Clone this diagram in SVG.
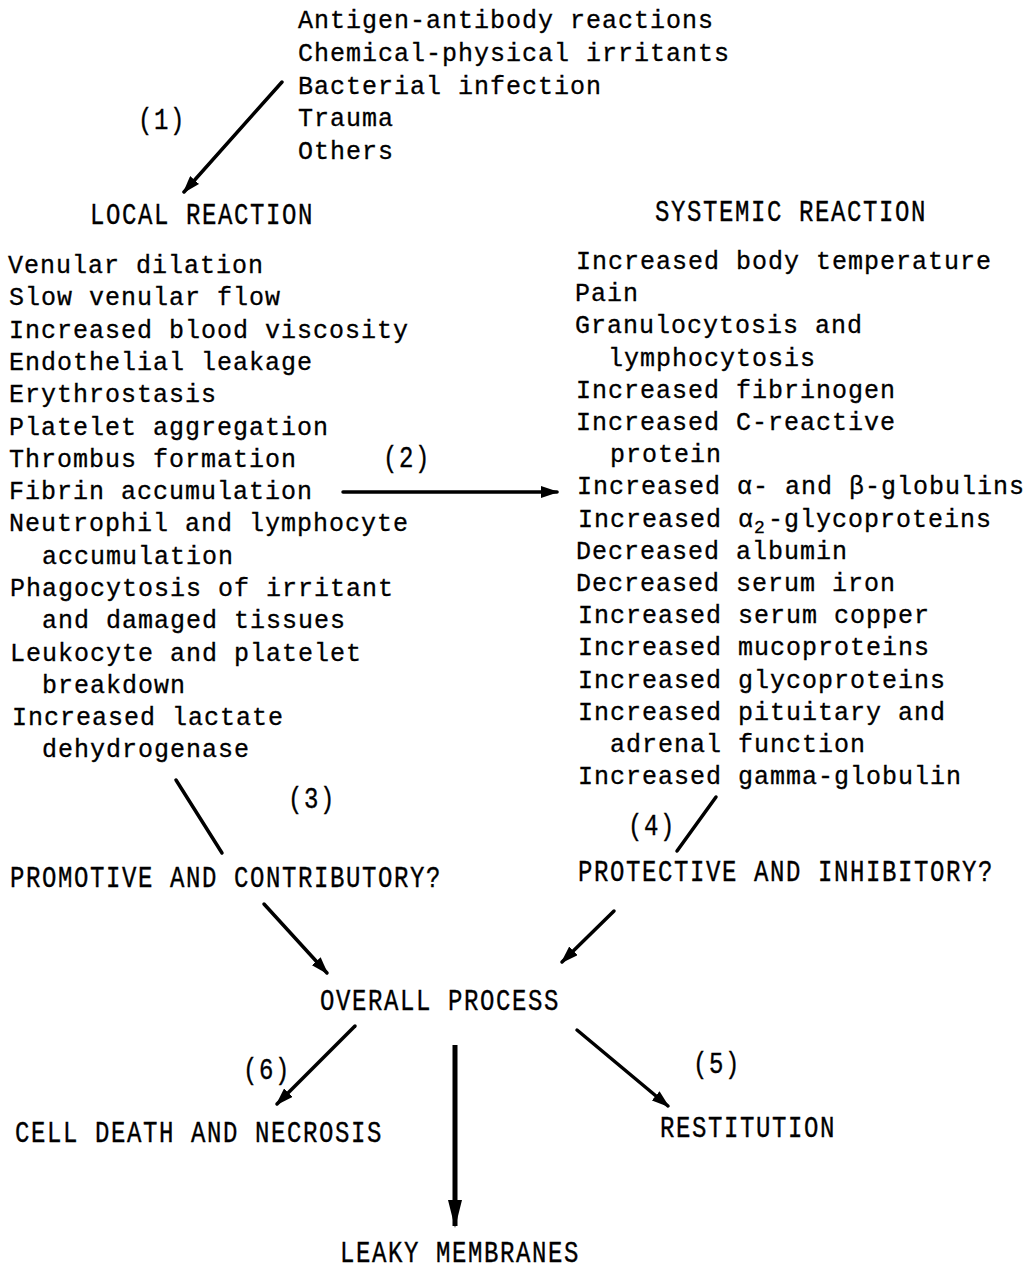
<svg xmlns="http://www.w3.org/2000/svg" width="1029" height="1271" viewBox="0 0 1029 1271">
<style>
.t{font-family:"Liberation Mono","Courier New",monospace;font-size:25px;letter-spacing:1px;fill:#000;stroke:#000;stroke-width:0.3}
.c{font-family:"Liberation Mono","Courier New",monospace;font-size:24px;letter-spacing:1.6px;fill:#000;stroke:#000;stroke-width:0.3}
.ln{stroke:#000;stroke-width:3.5;fill:none;stroke-linecap:round}
.thick{stroke:#000;stroke-width:5;fill:none}
</style>
<defs>
<marker id="ah" markerUnits="userSpaceOnUse" viewBox="0 0 18 12" markerWidth="18" markerHeight="12" refX="16" refY="6" orient="auto">
<path d="M0,0 L18,6 L0,12 z" fill="#000"/>
</marker>
<marker id="ahb" markerUnits="userSpaceOnUse" viewBox="0 0 28 14" markerWidth="28" markerHeight="14" refX="26" refY="7" orient="auto">
<path d="M0,0 L28,7 L0,14 z" fill="#000"/>
</marker>
</defs>
<rect width="1029" height="1271" fill="#fff"/>

<g id="causes">
<text class="t" x="298" y="28">Antigen-antibody reactions</text>
<text class="t" x="298" y="61">Chemical-physical irritants</text>
<text class="t" x="298" y="94">Bacterial infection</text>
<text class="t" x="298" y="126">Trauma</text>
<text class="t" x="298" y="159">Others</text>
</g>

<g id="local-reaction">
<text class="c" transform="translate(90,224) scale(1,1.25)">LOCAL REACTION</text>
<text class="t" x="8" y="273">Venular dilation</text>
<text class="t" x="9" y="305">Slow venular flow</text>
<text class="t" x="9" y="338">Increased blood viscosity</text>
<text class="t" x="9" y="370">Endothelial leakage</text>
<text class="t" x="9" y="402">Erythrostasis</text>
<text class="t" x="9" y="435">Platelet aggregation</text>
<text class="t" x="9" y="467">Thrombus formation</text>
<text class="t" x="9" y="499">Fibrin accumulation</text>
<text class="t" x="9" y="531">Neutrophil and lymphocyte</text>
<text class="t" x="42" y="564">accumulation</text>
<text class="t" x="10" y="596">Phagocytosis of irritant</text>
<text class="t" x="42" y="628">and damaged tissues</text>
<text class="t" x="10" y="661">Leukocyte and platelet</text>
<text class="t" x="42" y="693">breakdown</text>
<text class="t" x="12" y="725">Increased lactate</text>
<text class="t" x="42" y="757">dehydrogenase</text>
</g>

<g id="systemic-reaction">
<text class="c" transform="translate(655,221) scale(1,1.25)">SYSTEMIC REACTION</text>
<text class="t" x="576" y="269">Increased body temperature</text>
<text class="t" x="575" y="301">Pain</text>
<text class="t" x="575" y="333">Granulocytosis and</text>
<text class="t" x="608" y="366">lymphocytosis</text>
<text class="t" x="576" y="398">Increased fibrinogen</text>
<text class="t" x="576" y="430">Increased C-reactive</text>
<text class="t" x="610" y="462">protein</text>
<text class="t" x="577" y="494">Increased α- and β-globulins</text>
<text class="t" x="578" y="527">Increased α<tspan font-size="18" letter-spacing="0" dy="6">2</tspan><tspan x="768" dy="-6">-glycoproteins</tspan></text>
<text class="t" x="576" y="559">Decreased albumin</text>
<text class="t" x="576" y="591">Decreased serum iron</text>
<text class="t" x="578" y="623">Increased serum copper</text>
<text class="t" x="578" y="655">Increased mucoproteins</text>
<text class="t" x="578" y="688">Increased glycoproteins</text>
<text class="t" x="578" y="720">Increased pituitary and</text>
<text class="t" x="610" y="752">adrenal function</text>
<text class="t" x="578" y="784">Increased gamma-globulin</text>
</g>

<g id="promotive"><text class="c" transform="translate(10,887) scale(1,1.25)">PROMOTIVE AND CONTRIBUTORY?</text></g>
<g id="protective"><text class="c" transform="translate(578,881) scale(1,1.25)">PROTECTIVE AND INHIBITORY?</text></g>
<g id="overall"><text class="c" transform="translate(320,1010) scale(1,1.25)">OVERALL PROCESS</text></g>
<g id="necrosis"><text class="c" transform="translate(15,1142) scale(1,1.25)">CELL DEATH AND NECROSIS</text></g>
<g id="restitution"><text class="c" transform="translate(660,1137) scale(1,1.25)">RESTITUTION</text></g>
<g id="leaky"><text class="c" transform="translate(340,1262) scale(1,1.25)">LEAKY MEMBRANES</text></g>

<g id="connectors">
<line class="ln" x1="282" y1="82" x2="184" y2="192" marker-end="url(#ah)"/>
<line class="ln" x1="343" y1="492" x2="557" y2="492" marker-end="url(#ah)"/>
<line class="ln" x1="176" y1="780" x2="222" y2="853"/>
<line class="ln" x1="716" y1="797" x2="677" y2="851"/>
<line class="ln" x1="264" y1="904" x2="327" y2="973" marker-end="url(#ah)"/>
<line class="ln" x1="614" y1="911" x2="562" y2="962" marker-end="url(#ah)"/>
<line class="ln" x1="355" y1="1026" x2="277" y2="1104" marker-end="url(#ah)"/>
<line class="thick" x1="455" y1="1045" x2="455" y2="1226" marker-end="url(#ahb)"/>
<line class="ln" x1="577" y1="1030" x2="668" y2="1106" marker-end="url(#ah)"/>
<text class="c" transform="translate(138,129) scale(1,1.25)">(1)</text>
<text class="c" transform="translate(383,467) scale(1,1.25)">(2)</text>
<text class="c" transform="translate(288,808) scale(1,1.25)">(3)</text>
<text class="c" transform="translate(628,835) scale(1,1.25)">(4)</text>
<text class="c" transform="translate(243,1079) scale(1,1.25)">(6)</text>
<text class="c" transform="translate(693,1073) scale(1,1.25)">(5)</text>
</g>
</svg>
